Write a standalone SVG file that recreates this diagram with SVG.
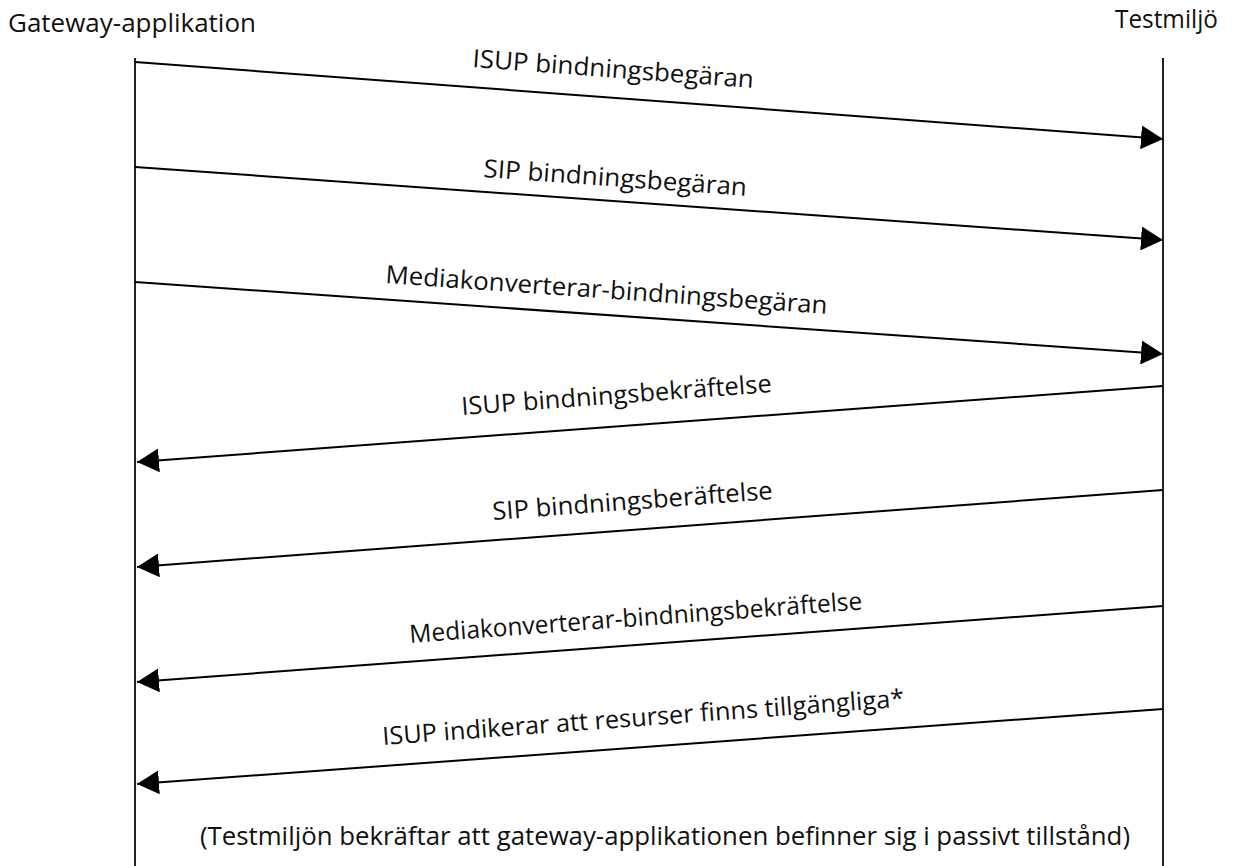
<svg xmlns="http://www.w3.org/2000/svg" width="1233" height="866" viewBox="0 0 1233 866">
  <style>
    .lbl { font-family: "Open Sans", "Noto Sans", "Liberation Sans", sans-serif; font-size: 25px; fill: #111; }
    .life { stroke: #222; stroke-width: 2; fill: none; }
    .msg { stroke: #000; stroke-width: 2; fill: none; marker-end: url(#head); }
  </style>
  <defs>
    <marker id="head" markerUnits="userSpaceOnUse" viewBox="0 0 22 24" refX="22" refY="12" markerWidth="22" markerHeight="24" orient="auto">
      <path d="M0,0 L22,12 L0,24 Z" fill="#000"/>
    </marker>
  </defs>
  <rect width="1233" height="866" fill="#fff"/>

  <!-- participants -->
  <g id="gateway">
    <text class="lbl" x="8" y="32" textLength="248" lengthAdjust="spacingAndGlyphs">Gateway-applikation</text>
    <line class="life" x1="135" y1="58" x2="135" y2="866"/>
  </g>
  <g id="testmiljo">
    <text class="lbl" x="1115" y="28" textLength="103" lengthAdjust="spacingAndGlyphs">Testmiljö</text>
    <line class="life" x1="1163" y1="58" x2="1163" y2="866"/>
  </g>

  <!-- messages -->
  <g id="connectors">
    <line class="msg" x1="135" y1="62" x2="1163" y2="139"/>
    <line class="msg" x1="135" y1="167" x2="1163" y2="240"/>
    <line class="msg" x1="135" y1="282" x2="1163" y2="354"/>
    <line class="msg" x1="1163" y1="386" x2="137" y2="462"/>
    <line class="msg" x1="1163" y1="490" x2="137" y2="567"/>
    <line class="msg" x1="1163" y1="606" x2="137" y2="682"/>
    <line class="msg" x1="1163" y1="709" x2="137" y2="784"/>
  </g>

  <!-- message labels -->
  <g id="labels">
    <text class="lbl" transform="translate(472,67) rotate(4.27)" textLength="282" lengthAdjust="spacingAndGlyphs">ISUP bindningsbegäran</text>
    <text class="lbl" transform="translate(483,177) rotate(4.08)" textLength="264" lengthAdjust="spacingAndGlyphs">SIP bindningsbegäran</text>
    <text class="lbl" transform="translate(385,283) rotate(4.0)" textLength="443" lengthAdjust="spacingAndGlyphs">Mediakonverterar-bindningsbegäran</text>
    <text class="lbl" transform="translate(462,415) rotate(-4.24)" textLength="311" lengthAdjust="spacingAndGlyphs">ISUP bindningsbekräftelse</text>
    <text class="lbl" transform="translate(493,520) rotate(-4.29)" textLength="281" lengthAdjust="spacingAndGlyphs">SIP bindningsberäftelse</text>
    <text class="lbl" transform="translate(410,643) rotate(-4.24)" textLength="454" lengthAdjust="spacingAndGlyphs">Mediakonverterar-bindningsbekräftelse</text>
    <text class="lbl" transform="translate(383,745) rotate(-4.21)" textLength="523" lengthAdjust="spacingAndGlyphs">ISUP indikerar att resurser finns tillgängliga*</text>
  </g>

  <g id="note">
    <text class="lbl" x="200" y="845" textLength="930" lengthAdjust="spacingAndGlyphs">(Testmiljön bekräftar att gateway-applikationen befinner sig i passivt tillstånd)</text>
  </g>
</svg>
